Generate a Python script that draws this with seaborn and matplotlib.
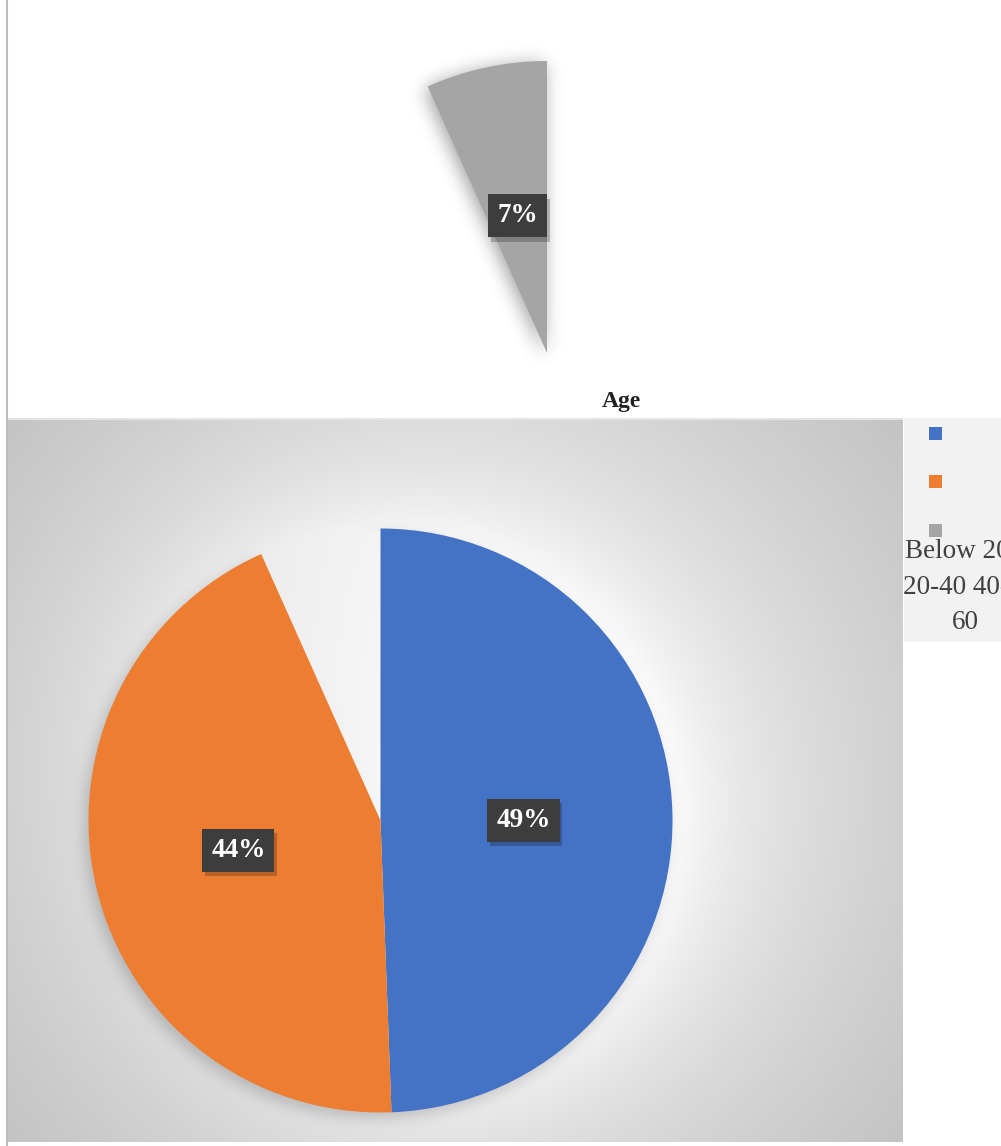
import numpy as np
import matplotlib
matplotlib.use("Agg")
import matplotlib.pyplot as plt
import matplotlib.patheffects as pe
from matplotlib.patches import Rectangle
import seaborn as sns

# ---- data ----
categories = ["Below 20", "20-40", "40-60"]
shares = [49.4, 43.9, 6.7]          # percent
labels = ["49%", "44%", "7%"]
colors = ["#4472C4", "#ED7D31", "#A5A5A5"]
title = "Age"
legend_lines = ["Below 20", "20-40 40-", "60"]

sns.set_theme(style="white")
plt.rcParams['font.family'] = ['Liberation Serif', 'DejaVu Serif']

W, H = 1001, 1146
fig = plt.figure(figsize=(W / 100, H / 100), dpi=100)
fig.patch.set_facecolor("white")

def px_axes(x0, y0, x1, y1, **kw):
    return fig.add_axes([x0 / W, 1 - y1 / H, (x1 - x0) / W, (y1 - y0) / H], **kw)

def gblur(a, sigma):
    h, w = a.shape
    fy = np.fft.fftfreq(h)[:, None]
    fx = np.fft.fftfreq(w)[None, :]
    k = np.exp(-2 * (np.pi ** 2) * sigma ** 2 * (fx ** 2 + fy ** 2))
    return np.real(np.fft.ifft2(np.fft.fft2(a) * k))

R = 292.0
PCX, PCY = 380.5, 820.5     # main pie centre (px)
TCX, TCY = 547.0, 353.0     # detached slice apex (px)

tot = float(sum(shares))
cum = np.cumsum([0] + shares) / tot * 360.0

def wedge_mask(X, Y, cx, cy, a0, a1):
    dx, dy = X - cx, Y - cy
    r = np.hypot(dx, dy)
    ang = np.degrees(np.arctan2(dx, -dy)) % 360.0
    return ((r <= R) & (ang >= a0) & (ang <= a1)).astype(float)

# full-figure overlay axes (pixel coords)
ov = px_axes(0, 0, W, H)
ov.axis("off")
ov.plot([7, 7], [0, H], color="#bfbfbf", lw=1.5)

# soft shadow of detached slice
sx0, sx1, sy0, sy1 = 360, 640, 20, 400
SX, SY = np.meshgrid(np.arange(sx0, sx1) + 0.5, np.arange(sy0, sy1) + 0.5)
sm = wedge_mask(SX, SY, TCX - 3, TCY + 3, cum[2], cum[3])
sh = gblur(sm, 9) * 0.38
simg = np.zeros(sm.shape + (4,))
simg[..., 3] = np.clip(sh, 0, 1)
ov.imshow(simg, extent=[sx0, sx1, sy1, sy0], aspect="auto", zorder=1)
ov.set_xlim(0, W); ov.set_ylim(H, 0)

# background plot area with gradient, glow and pie shadow
bx0, by0, bx1, by1 = 8, 418, 903, 1142
bg = px_axes(bx0, by0, bx1, by1)
X, Y = np.meshgrid(np.arange(bx0, bx1) + 0.5, np.arange(by0, by1) + 0.5)
acx, acy = (bx0 + bx1) / 2, (by0 + by1) / 2
d = np.hypot(X - acx, Y - acy) / np.hypot(bx1 - acx, by1 - acy)
base = 0.925 - 0.16 * np.clip(d, 0, 1) ** 1.3
r = np.hypot(X - PCX, Y - PCY)
outside = np.clip(r - R, 0, None)
theta = np.arctan2(-(Y - PCY), X - PCX)
wgt = 0.55 + 0.4 * np.cos(theta - np.deg2rad(20))
glow = np.clip(wgt, 0, 1) * np.exp(-outside / 75.0)
val = base * (1 - glow) + 0.995 * glow
pm = wedge_mask(X, Y, PCX - 4, PCY + 6, cum[0], cum[2])
val = val - gblur(pm, 7) * 0.16 * (r > R - 2)
val = np.clip(val, 0, 1)
bg.imshow(np.dstack([val, val, val]), extent=[bx0, bx1, by1, by0], aspect="auto")
bg.set_xlim(bx0, bx1); bg.set_ylim(by1, by0)
bg.axis("off")
bg.plot([bx0, bx1], [by0 + 1, by0 + 1], color="#e4e4e4", lw=1.5)

# title
fig.text(621 / W, 1 - 401 / H, title, ha="center", va="center",
         fontsize=17, fontweight="bold", color="#222222")

def put_label(ax, w, text, dist, dy=0.0):
    ang = np.deg2rad((w.theta1 + w.theta2) / 2)
    x, y = dist * np.cos(ang), dist * np.sin(ang) + dy
    t = ax.text(x, y, text, ha="center", va="center", fontsize=19.5, fontweight="bold",
                color="white", zorder=5,
                bbox=dict(boxstyle="square,pad=0.33", facecolor="#3d3d3d",
                          edgecolor="none"))
    t.get_bbox_patch().set_path_effects(
        [pe.SimplePatchShadow(offset=(2, -3), shadow_rgbFace="black", alpha=0.22),
         pe.Normal()])

# main pie (blue + orange); gray slice is pulled out to the top
pie_ax = px_axes(PCX - R, PCY - R, PCX + R, PCY + R)
wedges, _ = pie_ax.pie(shares, colors=colors, startangle=90, counterclock=False,
                       radius=1.0, wedgeprops=dict(linewidth=0))
wedges[2].set_visible(False)
pie_ax.set_xlim(-1, 1); pie_ax.set_ylim(-1, 1)
pie_ax.set_aspect("equal"); pie_ax.axis("off")
put_label(pie_ax, wedges[0], labels[0], 0.49, dy=-0.01)
put_label(pie_ax, wedges[1], labels[1], 0.50, dy=0.01)

# detached gray slice
top_ax = px_axes(TCX - R, TCY - R, TCX + R, TCY + R)
tw, _ = top_ax.pie(shares, colors=colors, startangle=90, counterclock=False,
                   radius=1.0, wedgeprops=dict(linewidth=0))
tw[0].set_visible(False); tw[1].set_visible(False)
top_ax.set_xlim(-1, 1); top_ax.set_ylim(-1, 1)
top_ax.set_aspect("equal"); top_ax.axis("off")
put_label(top_ax, tw[2], labels[2], 0.48)

# legend
lg = px_axes(904, 418, 1001, 642)
lg.set_xlim(904, 1001); lg.set_ylim(642, 418)
lg.axis("off")
lg.add_patch(Rectangle((904, 418), 97, 224, facecolor="#f2f2f2", edgecolor="none"))
for yc, c in zip([433.5, 481.5, 530], colors):
    lg.add_patch(Rectangle((929, yc - 6.5), 13, 13, facecolor=c, edgecolor="none"))
lg.text(905, 552, legend_lines[0], ha="left", va="center", fontsize=19.5,
        color="#404040", clip_on=True)
lg.text(903, 587.5, legend_lines[1], ha="left", va="center", fontsize=19.5,
        color="#404040", clip_on=True)
lg.text(965.5, 622.5, legend_lines[2], ha="center", va="center", fontsize=19.5,
        color="#404040", clip_on=True)

fig.savefig("out.png", dpi=100)
